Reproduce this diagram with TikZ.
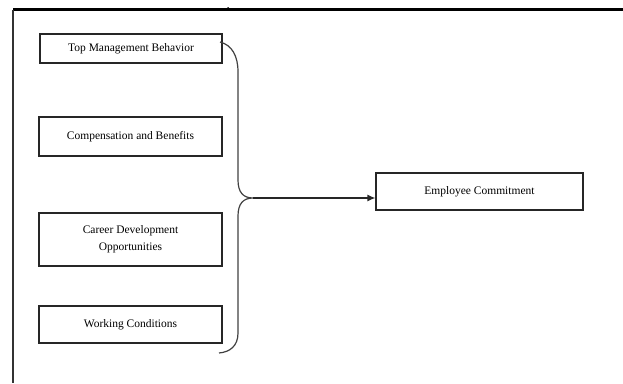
\documentclass[tikz,border=0pt]{standalone}
\usepackage{fontspec}
\setmainfont{Liberation Serif}
\usetikzlibrary{arrows.meta}
\begin{document}
\begin{tikzpicture}[x=1pt,y=-1pt,
  box/.style={draw=black!85,line width=1.2pt,inner sep=0pt,align=center,
    font=\fontsize{11.5}{17}\selectfont},
  frameline/.style={draw=black,line width=2.2pt},
  bracel/.style={draw=black!75,line width=1.2pt}]
\useasboundingbox (0,0) rectangle (623,383);
% frame
\draw[frameline] (13,9.5) -- (623,9.5);
\draw[draw=black!80,line width=1.5pt] (13,9.5) -- (13,383);
\fill (225.5,9.5) -- (228,7) -- (230.5,9.5) -- cycle;
% boxes
\node[box,minimum width=182pt,minimum height=29pt] (tmb) at (131,48.5) {Top Management Behavior};
\node[box,minimum width=183pt,minimum height=39pt] (cb) at (130.5,136.5) {Compensation and Benefits};
\node[box,minimum width=183pt,minimum height=53pt] (cdo) at (130.5,239.5) {Career Development\\Opportunities};
\node[box,minimum width=183pt,minimum height=37pt] (wc) at (130.5,324.5) {Working Conditions};
\node[box,minimum width=207pt,minimum height=37pt] (ec) at (479.5,191.5) {Employee Commitment};
% brace
\coordinate (btop) at (220,42);
\coordinate (tip) at (253,198);
\coordinate (bbot) at (219,353);
\draw[bracel] (btop) .. controls (232,45) and (238,56) .. (238,72) -- (238,180)
  .. controls (238,192) and (243,198) .. (tip)
  .. controls (243,198) and (238,204) .. (238,216) -- (238,333)
  .. controls (238,346) and (230,352) .. (bbot);
\draw[draw=black!85,line width=1.2pt,-{Latex[length=8pt,width=7pt]}] (tip) -- (tip -| ec.west);
\end{tikzpicture}
\end{document}
